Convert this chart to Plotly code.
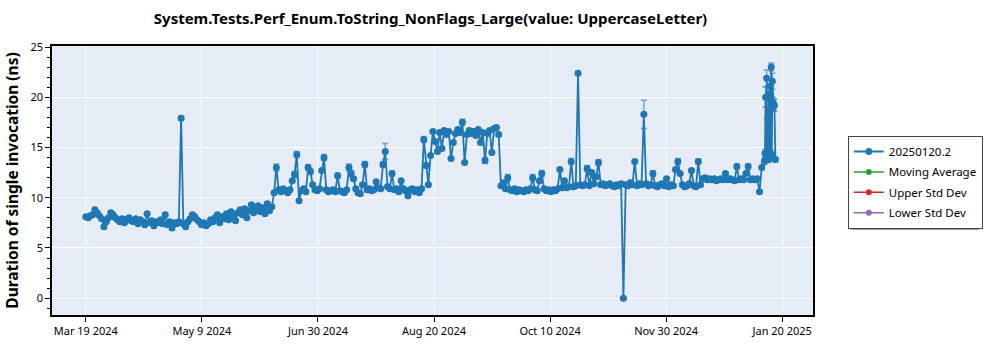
import pandas as pd
import plotly.graph_objects as go

# ---------------- data ----------------
start_date = "2024-03-19"
# one value per day from Mar 19 2024 through Jan 11 2025 (ns)
daily_values = [
    8.1, 8.0, 8.2, 8.3, 8.8, 8.5, 8.2,
    7.9, 7.1, 7.6, 8.0, 8.5, 8.3, 8.0,
    7.8, 7.6, 7.9, 7.5, 7.8, 8.0, 7.7,
    7.6, 7.9, 7.4, 7.8, 7.6, 7.3, 8.4,
    7.5, 7.7, 7.2, 7.6, 7.5, 7.8, 7.4,
    8.3, 7.3, 7.6, 7.0, 7.5, 7.4, 7.6,
    17.9, 7.4, 7.1, 7.6, 7.9, 8.3, 8.1,
    7.8, 7.6, 7.3, 7.5, 7.2, 7.4, 7.8,
    7.6, 8.0, 8.3, 7.5, 8.1, 7.9, 8.4,
    7.8, 8.6, 8.2, 7.7, 8.5, 8.8, 8.3,
    8.9, 8.0, 8.7, 9.3, 8.5, 8.9, 9.2,
    8.6, 9.0, 8.4, 9.4, 8.7, 9.1, 10.5,
    13.0, 10.8, 10.6, 10.9, 10.7, 10.5, 10.8,
    11.7, 12.3, 14.3, 9.7, 10.7, 10.9, 10.6,
    13.0, 12.6, 11.3, 10.8, 10.7, 10.9, 12.7,
    14.0, 10.8, 10.6, 10.7, 10.8, 10.6, 12.2,
    10.7, 10.6, 10.5, 10.8, 13.0, 12.4, 11.9,
    10.9, 10.5, 10.4, 11.3, 13.3, 10.8, 10.9,
    10.7, 10.8, 11.6, 11.0, 10.9, 13.3, 14.6,
    11.1, 10.9, 12.4, 10.8, 10.9, 10.6, 11.7,
    10.9, 10.7, 10.2, 10.8, 10.9, 10.6, 10.8,
    10.5, 10.9, 15.8, 13.2, 11.3, 14.2, 16.6,
    15.6, 14.6, 16.5, 14.9, 16.7, 16.3, 16.6,
    13.9, 15.5, 16.4, 16.8, 16.5, 17.5, 13.5,
    16.3, 16.7, 16.4, 16.6, 16.2, 16.8, 15.5,
    16.5, 13.7, 16.4, 16.7, 14.5, 16.9, 17.0,
    16.3, 11.2, 11.5, 10.9, 12.0, 10.8, 10.7,
    10.9, 10.6, 10.8, 10.7, 10.6, 10.8, 10.7,
    10.9, 12.0, 10.8, 10.7, 11.7, 12.4, 10.9,
    10.7, 10.8, 10.6, 10.8, 10.7, 10.9, 12.8,
    11.0, 11.7, 11.0, 11.1, 13.6, 11.1, 11.2,
    22.4, 11.3, 11.2, 11.3, 12.9, 11.2, 12.5,
    11.4, 12.1, 13.5, 11.3, 11.4, 11.2, 11.3,
    11.4, 11.2, 11.1, 11.3, 11.2, 11.4, 0.0,
    11.3, 11.2, 11.5, 11.3, 13.6, 11.2, 11.4,
    11.3, 18.3, 11.4, 11.2, 11.3, 12.4, 11.2,
    11.1, 11.3, 11.4, 11.2, 11.9, 11.1, 11.3,
    11.2, 12.8, 13.6, 12.4, 11.3, 11.1, 11.2,
    11.4, 12.7, 11.2, 11.1, 13.6, 11.3, 11.9,
    12.0, 11.8, 11.9, 11.8, 11.9, 11.7, 11.8,
    11.9, 11.8, 12.4, 11.8, 11.9, 11.8, 11.7,
    13.1, 11.8, 11.9, 11.8, 12.4, 13.1, 11.8,
    11.9, 11.8, 11.9, 10.6, 13.0,
]
# several runs per day at the end of the period
burst_times = [
    "2025-01-12 04:00", "2025-01-12 10:00", "2025-01-12 16:00", "2025-01-12 22:00",
    "2025-01-13 04:00", "2025-01-13 10:00", "2025-01-13 16:00", "2025-01-13 22:00",
    "2025-01-14 04:00", "2025-01-14 10:00", "2025-01-14 16:00", "2025-01-14 22:00",
    "2025-01-15 04:00", "2025-01-15 10:00", "2025-01-15 16:00", "2025-01-15 22:00",
    "2025-01-16 06:00", "2025-01-16 14:00", "2025-01-17 00:00",
]
burst_values = [
    13.6, 14.4, 20.0, 13.9, 21.9, 14.2, 17.8, 13.8, 20.3, 14.0,
    21.1, 14.1, 23.0, 14.3, 21.6, 19.5, 19.1, 19.2, 13.8,
]
err_default = 0.15
# (day index, error half-width) for the points with visible error bars
daily_err_pairs = [
    (42, 0.2), (84, 0.35), (92, 0.3), (93, 0.3), (98, 0.3), (99, 0.3),
    (105, 0.3), (111, 0.25), (116, 0.35), (117, 0.3), (123, 0.3), (131, 0.3),
    (132, 0.8), (135, 0.25), (149, 0.3), (150, 0.25), (166, 0.3), (176, 0.3),
    (186, 0.3), (197, 0.3), (201, 0.3), (214, 0.3), (221, 0.3), (226, 0.3),
    (246, 1.4), (250, 0.25), (261, 0.3), (270, 0.25), (287, 0.25), (292, 0.25),
]
burst_err = [0.3, 0.4, 1.0, 0.3, 0.8, 0.4, 1.2, 0.3, 0.6, 0.4,
             0.7, 0.3, 0.4, 0.4, 0.8, 0.5, 0.4, 0.6, 0.2]

tick_labels = ["Mar 19 2024", "May 9 2024", "Jun 30 2024", "Aug 20 2024",
               "Oct 10 2024", "Nov 30 2024", "Jan 20 2025"]
tick_first, tick_last = "2024-03-19", "2025-01-20"
x_range = ["2024-03-04 02:00", "2025-02-02 14:00"]
y_range = [-1.67, 25.1]

title_text = "System.Tests.Perf_Enum.ToString_NonFlags_Large(value: UppercaseLetter)"
y_title = "Duration of single invocation (ns)"
series_names = ["20250120.2", "Moving Average", "Upper Std Dev", "Lower Std Dev"]
series_colors = ["#1f77b4", "#2ca02c", "#d62728", "#9467bd"]

# ---------------- build ----------------
daily_dates = pd.date_range(start_date, periods=len(daily_values), freq="D")
err_map = dict(daily_err_pairs)
daily_err = [err_map.get(i, err_default) for i in range(len(daily_values))]

x_all = list(daily_dates) + list(pd.to_datetime(burst_times))
y_all = daily_values + burst_values
e_all = daily_err + burst_err

fig = go.Figure()
fig.add_trace(go.Scatter(
    x=x_all, y=y_all, mode="lines+markers", name=series_names[0],
    legendgroup="g0",
    line=dict(color=series_colors[0], width=1.8),
    marker=dict(color=series_colors[0], size=7),
    error_y=dict(type="data", array=e_all, visible=True,
                 color="rgba(31,119,180,0.6)", thickness=1.5, width=3),
))
for i, (name, col) in enumerate(zip(series_names[1:], series_colors[1:]), start=1):
    fig.add_trace(go.Scatter(
        x=[None], y=[None], mode="lines+markers", name=name,
        legendgroup="g%d" % i,
        line=dict(color=col, width=1.5), marker=dict(color=col, size=6),
    ))

tickvals = pd.date_range(tick_first, tick_last, periods=len(tick_labels))

# legend drop shadow (paper coordinates, behind the legend box)
plot_l, plot_r, plot_t, plot_b = 48, 813, 46, 318
def px_to_paper_x(px):
    return (px - plot_l) / (plot_r - plot_l)
def px_to_paper_y(py):
    return (plot_b - py) / (plot_b - plot_t)

fig.add_shape(type="rect", xref="paper", yref="paper", layer="above",
              x0=px_to_paper_x(851), x1=px_to_paper_x(980),
              y0=px_to_paper_y(232), y1=px_to_paper_y(140),
              fillcolor="#a0a0a0", line=dict(width=0))

fig.update_layout(
    width=1000, height=350,
    margin=dict(l=48, r=187, t=46, b=32),
    paper_bgcolor="white", plot_bgcolor="#E5ECF6",
    font=dict(family="Noto Sans", size=12, color="black"),
    title=dict(text="<b>" + title_text + "</b>", x=(48 + 813) / 2 / 1000,
               xanchor="center", y=1 - 19 / 350, yanchor="middle",
               font=dict(size=15, color="black")),
    showlegend=True,
    legend=dict(x=px_to_paper_x(848), xanchor="left", y=px_to_paper_y(137), yanchor="top",
                bgcolor="white", bordercolor="#444", borderwidth=1,
                traceorder="grouped", tracegroupgap=1.4,
                font=dict(size=11.5, color="black")),
    xaxis=dict(range=x_range, tickvals=list(tickvals), ticktext=tick_labels,
               showgrid=True, gridcolor="white", gridwidth=1,
               showline=True, linecolor="black", linewidth=1.5, mirror=True,
               ticks="outside", ticklen=5, tickcolor="black",
               tickfont=dict(size=11), zeroline=False),
    yaxis=dict(range=y_range, tickvals=[0, 5, 10, 15, 20, 25],
               showgrid=True, gridcolor="white", gridwidth=1,
               showline=True, linecolor="black", linewidth=1.5, mirror=True,
               ticks="outside", ticklen=5, tickcolor="black",
               minor=dict(dtick=1, ticks="outside", ticklen=3, tickcolor="black", showgrid=False),
               tickfont=dict(size=11), zeroline=False,
               title=dict(text="<b>" + y_title + "</b>", font=dict(size=15.5), standoff=8)),
)

fig.write_html("out.html")
